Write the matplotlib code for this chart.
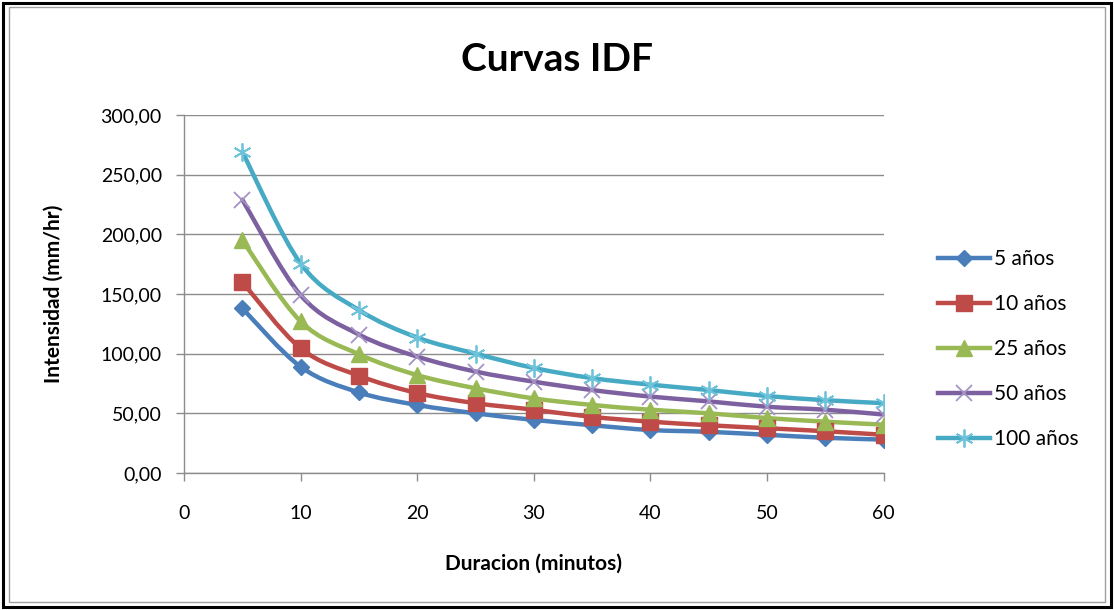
import matplotlib
matplotlib.use("Agg")
import matplotlib.pyplot as plt
from matplotlib.path import Path
from matplotlib.patches import PathPatch, Rectangle
from matplotlib.lines import Line2D
from matplotlib.ticker import FuncFormatter
import numpy as np

duracion = [5, 10, 15, 20, 25, 30, 35, 40, 45, 50, 55, 60]
i_5 = [138, 89, 67.5, 57, 50, 44.5, 40, 36, 34.5, 32, 29.5, 28]
i_10 = [160, 104.5, 81.5, 67, 58.5, 53, 47, 43, 40, 37.5, 35, 32]
i_25 = [195, 127, 99.5, 82, 71, 62.5, 57, 53, 50, 46, 43, 40.5]
i_50 = [229, 149, 116, 97.5, 85, 76.5, 69.5, 64, 60, 55.5, 53, 49]
i_100 = [269, 175.5, 136.5, 113.5, 100, 88, 79.5, 74, 69.5, 64.5, 61, 58.5]
series_labels = ["5 años", "10 años", "25 años", "50 años", "100 años"]
series = [i_5, i_10, i_25, i_50, i_100]

line_colors = ["#4A7EBB", "#BE4B48", "#98B954", "#7D60A0", "#46AAC5"]
marker_colors = ["#4A7EBB", "#BE4B48", "#98B954", "#A493C4", "#6EC3DA"]
markers = ["D", "s", "^", "x", (6, 2, 0)]
msizes = [8, 11, 11, 11, 13]

FONT = ["Lato", "DejaVu Sans"]
plt.rcParams["font.family"] = FONT

fig = plt.figure(figsize=(11.14, 6.10), dpi=100)
# chart border (double frame)
fig.patches.append(Rectangle((0.003, 0.005), 0.994, 0.99, transform=fig.transFigure,
                             fill=False, edgecolor="black", linewidth=2.2))
fig.patches.append(Rectangle((0.008, 0.013), 0.984, 0.975, transform=fig.transFigure,
                             fill=False, edgecolor="#A0A0A0", linewidth=1.0))

ax = fig.add_axes([0.1652, 0.2246, 0.628, 0.587])


def smooth_path(xs, ys):
    pts = np.column_stack([xs, ys]).astype(float)
    n = len(pts)
    verts = [pts[0]]
    codes = [Path.MOVETO]
    for i in range(n - 1):
        p0 = pts[i - 1] if i > 0 else pts[i]
        p1 = pts[i]
        p2 = pts[i + 1]
        p3 = pts[i + 2] if i + 2 < n else pts[i + 1]
        c1 = p1 + (p2 - p0) / 6.0
        c2 = p2 - (p3 - p1) / 6.0
        verts += [c1, c2, p2]
        codes += [Path.CURVE4] * 3
    return Path(verts, codes)


handles = []
for ys, lab, lc, mc, mk, ms in zip(series, series_labels, line_colors, marker_colors, markers, msizes):
    patch = PathPatch(smooth_path(duracion, ys), facecolor="none", edgecolor=lc,
                      linewidth=3.2, zorder=3, capstyle="round", joinstyle="round")
    ax.add_patch(patch)
    stroke = mk == "x" or isinstance(mk, tuple)
    if stroke:
        ax.plot(duracion, ys, linestyle="none", marker=mk, markersize=ms,
                markeredgecolor=mc, markeredgewidth=1.3, zorder=4)
    else:
        ax.plot(duracion, ys, linestyle="none", marker=mk, markersize=ms,
                markerfacecolor=mc, markeredgecolor=mc, zorder=4)
    handles.append(Line2D([0], [0], color=lc, linewidth=3.2, marker=mk, markersize=ms,
                          markerfacecolor=mc, markeredgecolor=mc,
                          markeredgewidth=1.3 if stroke else 1.0))

ax.set_xlim(0, 60)
ax.set_ylim(0, 300)
ax.set_xticks(range(0, 61, 10))
ax.set_yticks(range(0, 301, 50))
ax.yaxis.set_major_formatter(FuncFormatter(lambda v, p: f"{v:.2f}".replace(".", ",")))
ax.grid(axis="y", color="#8C8C8C", linewidth=1.0)
ax.set_axisbelow(True)
for s in ["top", "right"]:
    ax.spines[s].set_visible(False)
for s in ["left", "bottom"]:
    ax.spines[s].set_color("#8C8C8C")
    ax.spines[s].set_linewidth(1.0)
ax.tick_params(axis="both", colors="#8C8C8C", labelcolor="black", labelsize=14,
               length=6, width=1.0)
ax.tick_params(axis="x", pad=17)
ax.tick_params(axis="y", pad=10)

ax.set_xlabel("Duracion (minutos)", fontsize=15, fontweight="bold", labelpad=23)
ax.set_ylabel("Intensidad (mm/hr)", fontsize=15, fontweight="bold", labelpad=14)
ax.yaxis.set_label_coords(-0.172, 0.5)
fig.text(0.5, 0.903, "Curvas IDF", ha="center", va="center", fontsize=28, fontweight="bold")

leg = fig.legend(handles, series_labels, loc="center left", bbox_to_anchor=(0.825, 0.428),
                 frameon=False, fontsize=15, handlelength=2.5, labelspacing=1.2,
                 handletextpad=0.2)

fig.savefig("out.png", dpi=100)
